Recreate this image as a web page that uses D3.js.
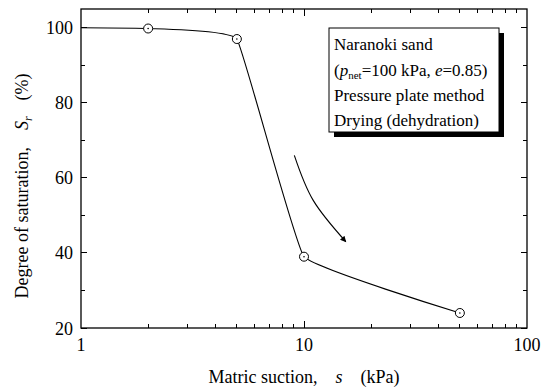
<!DOCTYPE html>
<html>
<head>
  <meta charset="utf-8">
  <title>Drying curve</title>
  <script src="https://d3js.org/d3.v7.min.js"></script>
  <style>
    body { margin: 0; background: #fff; }
    .axis line { fill: none; stroke: #000; shape-rendering: crispEdges; }
    .line { fill: none; stroke: #000; stroke-width: 1.1px; }
  </style>
</head>
<body>
  <script>
    // measured points (suction kPa, Sr %)
    var suction = [2, 5, 10, 50];
    var saturation = [99.8, 97, 39, 24];
    // curve starts at the left axis
    var curveSuction = [1, 2, 5, 10, 50];
    var curveSaturation = [100, 99.8, 97, 39, 24];
    var xTicks = [1, 10, 100];
    var yTicks = [20, 40, 60, 80, 100];
    var legendLines = ["Naranoki sand", "(p_net=100 kPa, e=0.85)", "Pressure plate method", "Drying (dehydration)"];
    var arrowPts = [[9.05, 66], [11.0, 54], [15.4, 43]];

    var serif = "'Liberation Serif', Tinos, 'Times New Roman', Times, 'Noto Serif', 'DejaVu Serif', serif";

    var margin = {top: 9, right: 20, bottom: 61, left: 81},
        width = 547 - margin.left - margin.right,
        height = 389 - margin.top - margin.bottom;

    var x = d3.scaleLog().domain([1, 100]).range([0, width]);
    var y = d3.scaleLinear().domain([20, 105]).range([height, 0]);

    var svg = d3.select("body").append("svg")
        .attr("width", 547)
        .attr("height", 389)
        .attr("font-family", serif)
        .style("font-family", serif)
      .append("g")
        .attr("transform", "translate(" + margin.left + "," + margin.top + ")");

    var minorX = [];
    for (var d = 1; d < 100; d *= 10)
      for (var k = 2; k <= 9; k++) minorX.push(d * k);
    var minorY = [30, 50, 70, 90];

    function tickLines(g, vals, len, orient) {
      g.selectAll(null).data(vals).enter().append("line")
        .attr("x1", function(v) { return orient === "b" || orient === "t" ? x(v) : (orient === "l" ? 0 : width); })
        .attr("x2", function(v) { return orient === "b" || orient === "t" ? x(v) : (orient === "l" ? len : width - len); })
        .attr("y1", function(v) { return orient === "l" || orient === "r" ? y(v) : (orient === "b" ? height : 0); })
        .attr("y2", function(v) { return orient === "l" || orient === "r" ? y(v) : (orient === "b" ? height - len : len); });
    }

    var ticks = svg.append("g").attr("class", "axis");
    tickLines(ticks, xTicks.slice(1, 2), 7, "b");
    tickLines(ticks, minorX, 4, "b");
    tickLines(ticks, xTicks.slice(1, 2), 7, "t");
    tickLines(ticks, minorX, 4, "t");
    tickLines(ticks, yTicks, 6, "l");
    tickLines(ticks, minorY, 4, "l");
    tickLines(ticks, yTicks, 6, "r");
    tickLines(ticks, minorY, 4, "r");

    svg.append("rect")
        .attr("width", width).attr("height", height)
        .attr("fill", "none").attr("stroke", "#000").attr("stroke-width", 1.3);

    svg.append("g").selectAll("text").data(xTicks).enter().append("text")
        .attr("x", function(v) { return x(v); })
        .attr("y", height + 23)
        .attr("text-anchor", "middle")
        .attr("font-size", 18)
        .text(function(v) { return v; });

    svg.append("g").selectAll("text").data(yTicks).enter().append("text")
        .attr("x", -8)
        .attr("y", function(v) { return y(v) + 6.5; })
        .attr("text-anchor", "end")
        .attr("font-size", 18)
        .text(function(v) { return v; });

    var xl = svg.append("text")
        .attr("x", width / 2)
        .attr("y", height + 55)
        .attr("text-anchor", "middle")
        .attr("font-size", 18);
    xl.append("tspan").text("Matric suction,");
    xl.append("tspan").attr("dx", 18).attr("font-style", "italic").text("s");
    xl.append("tspan").attr("dx", 18).text("(kPa)");

    var yl = svg.append("text")
        .attr("transform", "translate(-53," + 177 + ") rotate(-90)")
        .attr("text-anchor", "middle")
        .attr("font-size", 18);
    yl.append("tspan").text("Degree of saturation,");
    yl.append("tspan").attr("dx", 17).attr("font-style", "italic").text("S");
    yl.append("tspan").attr("font-style", "italic").attr("font-size", 12).attr("dy", 4).text("r");
    yl.append("tspan").attr("dx", 16).attr("dy", -4).text("(%)");

    var line = d3.line()
        .curve(d3.curveCardinal.tension(0.75))
        .x(function(d) { return x(d[0]); })
        .y(function(d) { return y(d[1]); });

    svg.append("path")
        .datum(curveSuction.map(function(s, i) { return [s, curveSaturation[i]]; }))
        .attr("class", "line")
        .attr("d", line);

    var pts = svg.append("g").selectAll("g")
        .data(suction.map(function(s, i) { return [s, saturation[i]]; }))
        .enter().append("g")
        .attr("transform", function(d) { return "translate(" + x(d[0]) + "," + y(d[1]) + ")"; });
    pts.append("circle").attr("r", 4.5).attr("fill", "#fff").attr("stroke", "#000").attr("stroke-width", 1);
    pts.append("circle").attr("r", 0.8).attr("fill", "#000");

    // arrow
    svg.append("defs").append("marker")
        .attr("id", "ah").attr("viewBox", "0 0 10 10")
        .attr("refX", 9).attr("refY", 5)
        .attr("markerWidth", 10).attr("markerHeight", 6)
        .attr("markerUnits", "userSpaceOnUse")
        .attr("orient", "auto")
      .append("path").attr("d", "M0,0L10,5L0,10z").attr("fill", "#000");

    svg.append("path")
        .attr("d", d3.line().curve(d3.curveNatural)
          .x(function(d) { return x(d[0]); })
          .y(function(d) { return y(d[1]); })(arrowPts))
        .attr("fill", "none").attr("stroke", "#000").attr("stroke-width", 1.1)
        .attr("marker-end", "url(#ah)");

    // legend box with shadow
    var lg = svg.append("g").attr("transform", "translate(" + (329 - margin.left) + "," + (28 - margin.top) + ")");
    lg.append("rect").attr("x", 5).attr("y", 5).attr("width", 170).attr("height", 104).attr("fill", "#000");
    lg.append("rect").attr("width", 170).attr("height", 104).attr("fill", "#fff").attr("stroke", "#000").attr("stroke-width", 1);

    var fs = 17;
    var ty = [22, 48, 73, 98];
    lg.append("text").attr("x", 5).attr("y", ty[0]).attr("font-size", fs).text(legendLines[0]);
    var l2 = lg.append("text").attr("x", 5).attr("y", ty[1]).attr("font-size", fs);
    l2.append("tspan").text("(");
    l2.append("tspan").attr("font-style", "italic").text("p");
    l2.append("tspan").attr("font-size", 11).attr("dy", 3).text("net");
    l2.append("tspan").attr("dy", -3).text("=100 kPa, ");
    l2.append("tspan").attr("font-style", "italic").text("e");
    l2.append("tspan").text("=0.85)");
    lg.append("text").attr("x", 5).attr("y", ty[2]).attr("font-size", fs).text(legendLines[2]);
    lg.append("text").attr("x", 5).attr("y", ty[3]).attr("font-size", fs).text(legendLines[3]);
  </script>
</body>
</html>
